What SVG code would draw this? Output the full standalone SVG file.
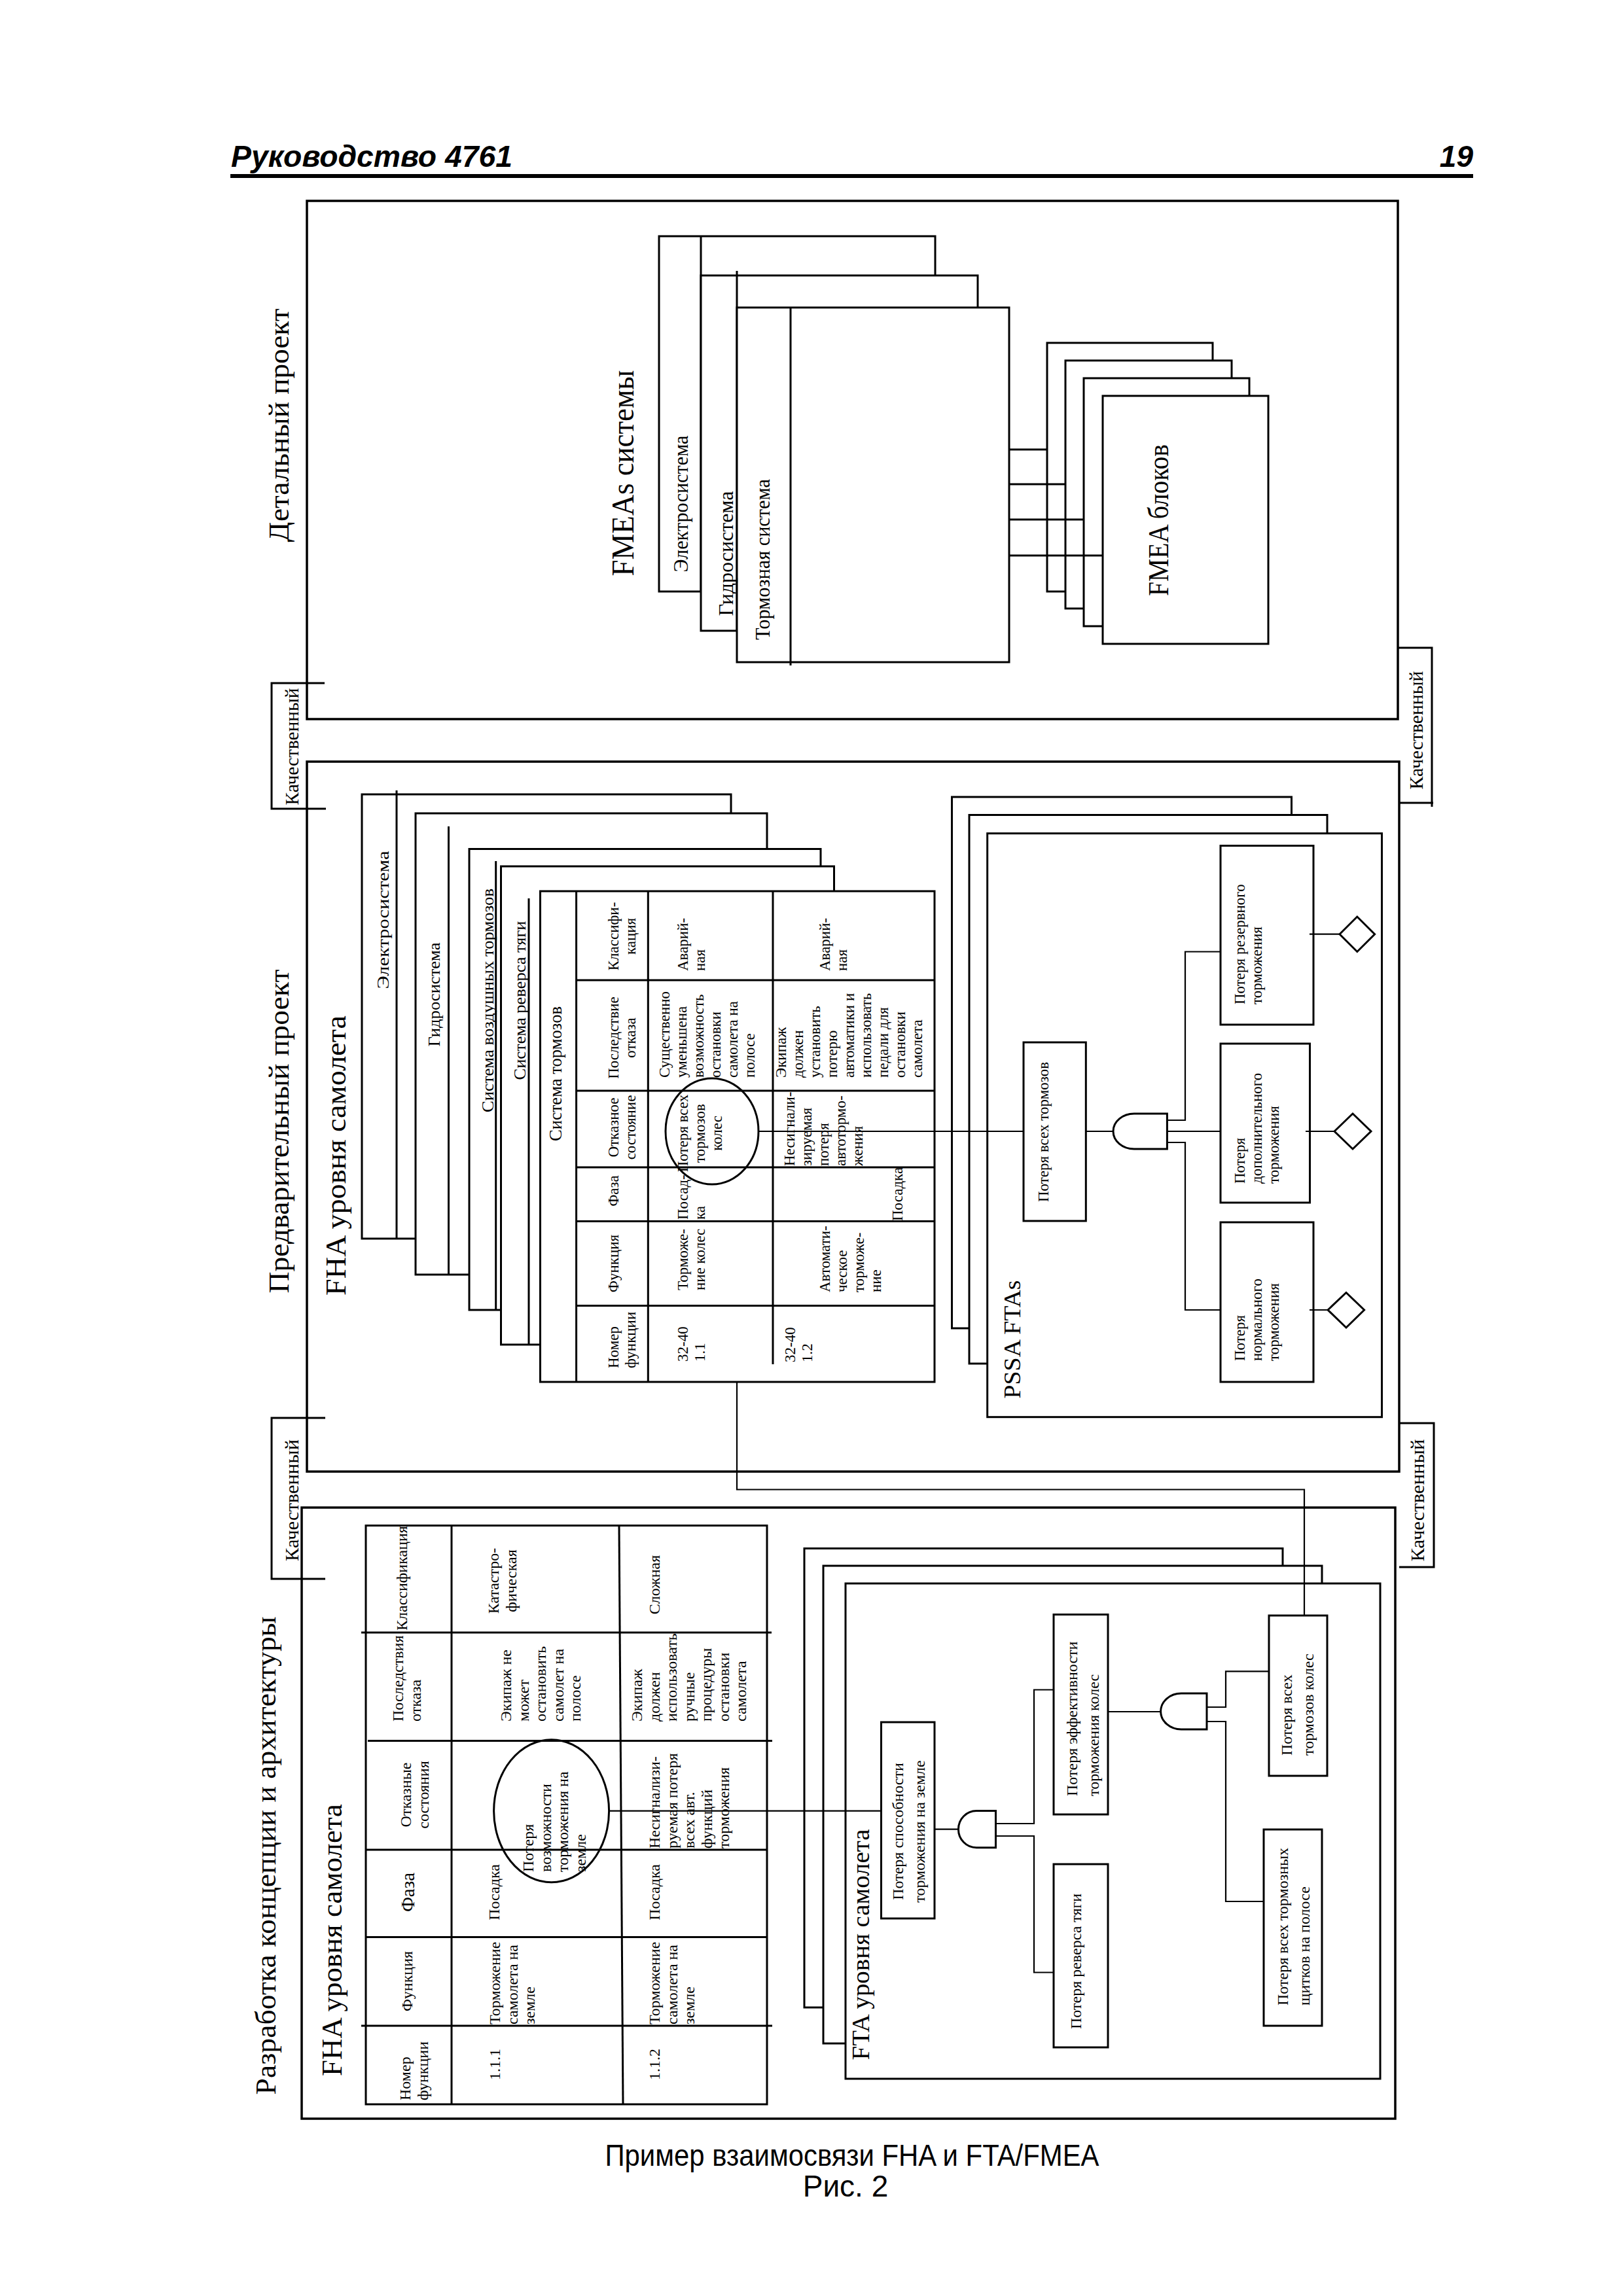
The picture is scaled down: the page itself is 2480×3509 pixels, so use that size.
<svg xmlns="http://www.w3.org/2000/svg" width="2480" height="3509" viewBox="0 0 2480 3509">
<style>
.f{font-family:"Liberation Serif","Times New Roman",serif;fill:#000}
.a{font-family:"Liberation Sans",Arial,sans-serif;fill:#000}
.m{text-anchor:middle}
.k{fill:#fff;stroke:#000;stroke-width:3}
.n{fill:none;stroke:#000;stroke-width:3.5}
.l{fill:none;stroke:#000;stroke-width:3}
.c{fill:none;stroke:#000;stroke-width:2.2}
.g{fill:#fff;stroke:#000;stroke-width:3}
</style>
<rect width="2480" height="3509" fill="#fff"/>

<g id="header">
<text class="a" x="353" y="255" font-size="46" font-weight="bold" font-style="italic" textLength="430" lengthAdjust="spacingAndGlyphs">Руководство 4761</text>
<text class="a" x="2251" y="255" font-size="46" font-weight="bold" font-style="italic" text-anchor="end">19</text>
<rect x="352" y="266" width="1899" height="6" fill="#000"/>
</g>

<!-- ============ DETAILED DESIGN ============ -->
<g id="panel-detail">
<rect class="n" x="469" y="307" width="1667" height="792"/>
<text class="f m" font-size="44" textLength="357" lengthAdjust="spacingAndGlyphs" transform="translate(441 650) rotate(-90)">Детальный проект</text>
</g>
<g id="fmea-systems">
<rect class="k" x="1007" y="361" width="422" height="543"/>
<line class="l" x1="1071" y1="361" x2="1071" y2="904"/>
<rect class="k" x="1071" y="421" width="423" height="543"/>
<line class="l" x1="1126" y1="414" x2="1126" y2="964"/>
<rect class="k" x="1126" y="470" width="416" height="542"/>
<line class="l" x1="1208" y1="470" x2="1208" y2="1017"/>
<text class="f m" font-size="48" textLength="315" lengthAdjust="spacingAndGlyphs" transform="translate(968 723) rotate(-90)">FMEAs системы</text>
<text class="f m" font-size="31" textLength="209" lengthAdjust="spacingAndGlyphs" transform="translate(1051 770) rotate(-90)">Электросистема</text>
<text class="f m" font-size="31" textLength="191" lengthAdjust="spacingAndGlyphs" transform="translate(1120 846) rotate(-90)">Гидросистема</text>
<text class="f m" font-size="31" textLength="246" lengthAdjust="spacingAndGlyphs" transform="translate(1176 855) rotate(-90)">Тормозная система</text>
</g>
<g id="fmea-blocks">
<rect class="k" x="1600" y="524" width="253" height="380"/>
<rect class="k" x="1628" y="551" width="254" height="379"/>
<rect class="k" x="1656" y="578" width="253" height="379"/>
<rect class="k" x="1685" y="605" width="253" height="379"/>
<text class="f m" font-size="44" textLength="232" lengthAdjust="spacingAndGlyphs" transform="translate(1785 795) rotate(-90)">FMEA блоков</text>
</g>

<!-- ============ PRELIMINARY DESIGN ============ -->
<g id="panel-prelim">
<rect class="n" x="469" y="1164" width="1669" height="1085"/>
<text class="f m" font-size="44" textLength="495" lengthAdjust="spacingAndGlyphs" transform="translate(441 1729) rotate(-90)">Предварительный проект</text>
<text class="f m" font-size="44" textLength="428" lengthAdjust="spacingAndGlyphs" transform="translate(528 1766) rotate(-90)">FHA уровня самолета</text>
</g>
<g id="system-fha-stack">
<rect class="k" x="553" y="1214" width="564" height="679"/>
<line class="l" x1="606" y1="1208" x2="606" y2="1893"/>
<text class="f m" font-size="26" textLength="211" lengthAdjust="spacingAndGlyphs" transform="translate(594 1406) rotate(-90)">Электросистема</text>
<rect class="k" x="635" y="1243" width="537" height="705"/>
<line class="l" x1="685.5" y1="1263" x2="685.5" y2="1948"/>
<text class="f m" font-size="26" textLength="159" lengthAdjust="spacingAndGlyphs" transform="translate(672 1520) rotate(-90)">Гидросистема</text>
<rect class="k" x="717" y="1297.5" width="537" height="704.5"/>
<line class="l" x1="757.7" y1="1316" x2="757.7" y2="2002"/>
<text class="f m" font-size="26" textLength="342" lengthAdjust="spacingAndGlyphs" transform="translate(754 1529) rotate(-90)">Система воздушных тормозов</text>
<rect class="k" x="765.5" y="1324" width="509" height="731"/>
<line class="l" x1="808" y1="1373" x2="808" y2="2055"/>
<text class="f m" font-size="26" textLength="243" lengthAdjust="spacingAndGlyphs" transform="translate(803 1529) rotate(-90)">Система реверса тяги</text>
</g>
<g id="brake-system-fha">
<rect class="g" x="825.5" y="1362" width="602.5" height="750" stroke-width="3.5"/>
<g class="l">
<line x1="880.6" y1="1362" x2="880.6" y2="2112"/>
<line x1="990.3" y1="1362" x2="990.3" y2="2112"/>
<line x1="1181" y1="1362" x2="1181" y2="2085"/>
<line x1="880.6" y1="1498" x2="1428" y2="1498"/>
<line x1="880.6" y1="1667" x2="1428" y2="1667"/>
<line x1="880.6" y1="1784" x2="1428" y2="1784"/>
<line x1="880.6" y1="1866.5" x2="1428" y2="1866.5"/>
<line x1="880.6" y1="1995.5" x2="1428" y2="1995.5"/>
</g>
<text class="f m" font-size="27" textLength="206" lengthAdjust="spacingAndGlyphs" transform="translate(858 1641) rotate(-90)">Система тормозов</text>
<g class="f" font-size="23">
<text transform="translate(945 2091) rotate(-90)"><tspan x="0" y="0">Номер</tspan><tspan x="0" y="26">функции</tspan></text>
<text class="m" transform="translate(945 1931) rotate(-90)">Функция</text>
<text class="m" transform="translate(945 1820) rotate(-90)">Фаза</text>
<text class="m" transform="translate(945 1723) rotate(-90)"><tspan x="0" y="0">Отказное</tspan><tspan x="0" y="26">состояние</tspan></text>
<text class="m" transform="translate(945 1586) rotate(-90)"><tspan x="0" y="0">Последствие</tspan><tspan x="0" y="26">отказа</tspan></text>
<text class="m" transform="translate(945 1431) rotate(-90)"><tspan x="0" y="0">Классифи-</tspan><tspan x="0" y="26">кация</tspan></text>
<text transform="translate(1051 2081) rotate(-90)"><tspan x="0" y="0">32-40</tspan><tspan x="0" y="26">1.1</tspan></text>
<text transform="translate(1051 1972) rotate(-90)"><tspan x="0" y="0">Торможе-</tspan><tspan x="0" y="26">ние колес</tspan></text>
<text transform="translate(1051 1864) rotate(-90)"><tspan x="0" y="0">Посад-</tspan><tspan x="0" y="26">ка</tspan></text>
<text class="m" transform="translate(1051 1732) rotate(-90)"><tspan x="0" y="0">Потеря всех</tspan><tspan x="0" y="26">тормозов</tspan><tspan x="0" y="52">колес</tspan></text>
<text transform="translate(1023 1647) rotate(-90)"><tspan x="0" y="0">Существенно</tspan><tspan x="0" y="26">уменьшена</tspan><tspan x="0" y="52">возможность</tspan><tspan x="0" y="78">остановки</tspan><tspan x="0" y="104">самолета на</tspan><tspan x="0" y="130">полосе</tspan></text>
<text transform="translate(1051 1484) rotate(-90)"><tspan x="0" y="0">Аварий-</tspan><tspan x="0" y="26">ная</tspan></text>
<text transform="translate(1215 2082) rotate(-90)"><tspan x="0" y="0">32-40</tspan><tspan x="0" y="26">1.2</tspan></text>
<text transform="translate(1268 1975) rotate(-90)"><tspan x="0" y="0">Автомати-</tspan><tspan x="0" y="26">ческое</tspan><tspan x="0" y="52">торможе-</tspan><tspan x="0" y="78">ние</tspan></text>
<text transform="translate(1379 1866) rotate(-90)">Посадка</text>
<text transform="translate(1214 1782) rotate(-90)"><tspan x="0" y="0">Несигнали-</tspan><tspan x="0" y="26">зируемая</tspan><tspan x="0" y="52">потеря</tspan><tspan x="0" y="78">автотормо-</tspan><tspan x="0" y="104">жения</tspan></text>
<text transform="translate(1201 1647) rotate(-90)"><tspan x="0" y="0">Экипаж</tspan><tspan x="0" y="26">должен</tspan><tspan x="0" y="52">установить</tspan><tspan x="0" y="78">потерю</tspan><tspan x="0" y="104">автоматики и</tspan><tspan x="0" y="130">использовать</tspan><tspan x="0" y="156">педали для</tspan><tspan x="0" y="182">остановки</tspan><tspan x="0" y="208">самолета</tspan></text>
<text transform="translate(1268 1484) rotate(-90)"><tspan x="0" y="0">Аварий-</tspan><tspan x="0" y="26">ная</tspan></text>
</g>
<ellipse class="l" cx="1088" cy="1729" rx="71" ry="81"/>
</g>

<g id="pssa-fta">
<rect class="k" x="1454.5" y="1218" width="519" height="812"/>
<rect class="k" x="1481" y="1245.5" width="547" height="838.5"/>
<rect class="k" x="1508.7" y="1273.7" width="602.8" height="892"/>
<text class="f m" font-size="36" textLength="181" lengthAdjust="spacingAndGlyphs" transform="translate(1559 2047) rotate(-90)">PSSA FTAs</text>
</g>
<g id="pssa-top" class="f" font-size="23">
<rect class="g" x="1564" y="1593" width="95.3" height="273"/>
<text class="m" transform="translate(1602 1730) rotate(-90)">Потеря всех тормозов</text>
</g>
<g id="pssa-reserve" class="f" font-size="23">
<rect class="g" x="1865" y="1292.5" width="142" height="273.5"/>
<text transform="translate(1902 1535) rotate(-90)"><tspan x="0" y="0">Потеря резервного</tspan><tspan x="0" y="26">торможения</tspan></text>
</g>
<g id="pssa-additional" class="f" font-size="23">
<rect class="g" x="1865" y="1595" width="136.5" height="243"/>
<text transform="translate(1902 1809) rotate(-90)"><tspan x="0" y="0">Потеря</tspan><tspan x="0" y="26">дополнительного</tspan><tspan x="0" y="52">торможения</tspan></text>
</g>
<g id="pssa-normal" class="f" font-size="23">
<rect class="g" x="1865" y="1868" width="142" height="244"/>
<text transform="translate(1902 2080) rotate(-90)"><tspan x="0" y="0">Потеря</tspan><tspan x="0" y="26">нормального</tspan><tspan x="0" y="52">торможения</tspan></text>
</g>
<g id="pssa-gate">
<path class="g" d="M1783.4,1702 H1733 A32,27 0 0 0 1733,1756 H1783.4 Z"/>
</g>
<g id="pssa-diamonds">
<polygon class="g" points="2047,1427.7 2073.8,1401 2100.6,1427.7 2073.8,1454.5"/>
<polygon class="g" points="2039,1729 2067,1702 2095,1729 2067,1756"/>
<polygon class="g" points="2029,2002 2057,1975.5 2084.6,2002 2057,2029"/>
</g>

<!-- ============ CONCEPT / ARCHITECTURE ============ -->
<g id="panel-concept">
<rect class="n" x="461" y="2304" width="1671" height="934"/>
<text class="f m" font-size="44" textLength="731" lengthAdjust="spacingAndGlyphs" transform="translate(421 2836) rotate(-90)">Разработка концепции и архитектуры</text>
<text class="f m" font-size="44" textLength="416" lengthAdjust="spacingAndGlyphs" transform="translate(522 2965) rotate(-90)">FHA уровня самолета</text>
</g>
<g id="aircraft-fha">
<rect class="g" x="559" y="2331.5" width="613" height="884.5" stroke-width="3.5"/>
<g class="l">
<line x1="690" y1="2331.5" x2="690" y2="3216"/>
<line x1="946" y1="2331.5" x2="952" y2="3216"/>
<line x1="552" y1="2495" x2="1179" y2="2495"/>
<line x1="562" y1="2660.5" x2="1180" y2="2660.5"/>
<line x1="559" y1="2827" x2="1172" y2="2827"/>
<line x1="559" y1="2960.5" x2="1172" y2="2960.5"/>
<line x1="552" y1="3096" x2="1180" y2="3096"/>
</g>
<g class="f" font-size="24">
<text transform="translate(627 3210) rotate(-90)"><tspan x="0" y="0">Номер</tspan><tspan x="0" y="26.5">функции</tspan></text>
<text class="m" transform="translate(630 3028) rotate(-90)">Функция</text>
<text class="m" font-size="29" transform="translate(633 2892) rotate(-90)">Фаза</text>
<text class="m" transform="translate(628 2743) rotate(-90)"><tspan x="0" y="0">Отказные</tspan><tspan x="0" y="26.5">состояния</tspan></text>
<text transform="translate(616 2631) rotate(-90)"><tspan x="0" y="0">Последствия</tspan><tspan x="0" y="26.5">отказа</tspan></text>
<text transform="translate(622 2492) rotate(-90)">Классификация</text>
<text class="m" transform="translate(764 3155) rotate(-90)">1.1.1</text>
<text transform="translate(764 3094) rotate(-90)"><tspan x="0" y="0">Торможение</tspan><tspan x="0" y="26.5">самолета на</tspan><tspan x="0" y="53">земле</tspan></text>
<text class="m" transform="translate(763 2892) rotate(-90)">Посадка</text>
<text transform="translate(815 2861) rotate(-90)"><tspan x="0" y="0">Потеря</tspan><tspan x="0" y="26.5">возможности</tspan><tspan x="0" y="53">торможения на</tspan><tspan x="0" y="79.5">земле</tspan></text>
<text transform="translate(781 2631) rotate(-90)"><tspan x="0" y="0">Экипаж не</tspan><tspan x="0" y="26.5">может</tspan><tspan x="0" y="53">остановить</tspan><tspan x="0" y="79.5">самолет на</tspan><tspan x="0" y="106">полосе</tspan></text>
<text class="m" transform="translate(762 2416) rotate(-90)"><tspan x="0" y="0">Катастро-</tspan><tspan x="0" y="26.5">фическая</tspan></text>
<text class="m" transform="translate(1008 3155) rotate(-90)">1.1.2</text>
<text transform="translate(1008 3094) rotate(-90)"><tspan x="0" y="0">Торможение</tspan><tspan x="0" y="26.5">самолета на</tspan><tspan x="0" y="53">земле</tspan></text>
<text class="m" transform="translate(1008 2892) rotate(-90)">Посадка</text>
<text transform="translate(1008 2825) rotate(-90)"><tspan x="0" y="0">Несигнализи-</tspan><tspan x="0" y="26.5">руемая потеря</tspan><tspan x="0" y="53">всех авт.</tspan><tspan x="0" y="79.5">функций</tspan><tspan x="0" y="106">торможения</tspan></text>
<text transform="translate(981 2631) rotate(-90)"><tspan x="0" y="0">Экипаж</tspan><tspan x="0" y="26.5">должен</tspan><tspan x="0" y="53">использовать</tspan><tspan x="0" y="79.5">ручные</tspan><tspan x="0" y="106">процедуры</tspan><tspan x="0" y="132.5">остановки</tspan><tspan x="0" y="159">самолета</tspan></text>
<text class="m" transform="translate(1008 2422) rotate(-90)">Сложная</text>
</g>
<ellipse class="l" cx="842.6" cy="2767.7" rx="88" ry="109"/>
</g>

<g id="aircraft-fta">
<rect class="k" x="1229" y="2366.5" width="731" height="701.5"/>
<rect class="k" x="1258" y="2393" width="762" height="730"/>
<rect class="k" x="1292" y="2420" width="817" height="757"/>
<text class="f m" font-size="38" textLength="353" lengthAdjust="spacingAndGlyphs" transform="translate(1328 2972) rotate(-90)">FTA уровня самолета</text>
</g>
<g id="fta-top" class="f" font-size="24">
<rect class="g" x="1346.5" y="2632" width="81.5" height="300"/>
<text class="m" transform="translate(1380 2799) rotate(-90)"><tspan x="0" y="0">Потеря способности</tspan><tspan x="0" y="33">торможения на земле</tspan></text>
</g>
<g id="fta-efficiency" class="f" font-size="24">
<rect class="g" x="1610" y="2467.5" width="83" height="305.5"/>
<text transform="translate(1646 2745) rotate(-90)"><tspan x="0" y="0">Потеря эффективности</tspan><tspan x="0" y="33">торможения  колес</tspan></text>
</g>
<g id="fta-reverse" class="f" font-size="24">
<rect class="g" x="1610" y="2849" width="83" height="280"/>
<text transform="translate(1652 3101) rotate(-90)">Потеря реверса тяги</text>
</g>
<g id="fta-wheelbrakes" class="f" font-size="24">
<rect class="g" x="1939" y="2469" width="89" height="245"/>
<text transform="translate(1974 2683) rotate(-90)"><tspan x="0" y="0">Потеря всех</tspan><tspan x="0" y="33">тормозов колес</tspan></text>
</g>
<g id="fta-spoilers" class="f" font-size="24">
<rect class="g" x="1931" y="2796" width="89" height="300"/>
<text transform="translate(1968 3065) rotate(-90)"><tspan x="0" y="0">Потеря всех тормозных</tspan><tspan x="0" y="33">щитков на полосе</tspan></text>
</g>
<g id="fta-gates">
<path class="g" d="M1521.5,2767.6 H1492 A27.5,28 0 0 0 1492,2823.7 H1521.5 Z"/>
<path class="g" d="M1844,2588 H1805 A31.4,27.5 0 0 0 1805,2643 H1844 Z"/>
</g>

<!-- ============ QUALITATIVE LABELS ============ -->
<g id="labels" class="f" font-size="29">
<path class="l" d="M496,1044 H415 V1236 H498"/>
<text class="m" textLength="179" lengthAdjust="spacingAndGlyphs" transform="translate(456 1141) rotate(-90)">Качественный</text>
<path class="l" d="M2137,990 H2188 V1233 M2137,1227 H2190"/>
<text class="m" textLength="181" lengthAdjust="spacingAndGlyphs" transform="translate(2174 1116) rotate(-90)">Качественный</text>
<path class="l" d="M497,2167 H415 V2413 H497"/>
<text class="m" textLength="186" lengthAdjust="spacingAndGlyphs" transform="translate(456 2293) rotate(-90)">Качественный</text>
<path class="l" d="M2138,2175 H2191 V2395 H2138"/>
<text class="m" textLength="187" lengthAdjust="spacingAndGlyphs" transform="translate(2176 2293) rotate(-90)">Качественный</text>
</g>

<!-- ============ CONNECTORS ============ -->
<g id="connectors" class="c">
<path d="M1542.5,687 H1600 M1542.5,740 H1628 M1542.5,794 H1656 M1542.5,849 H1685" stroke-width="3"/>
<path d="M1159.5,1729 H1564"/>
<path d="M1659.3,1729 H1701"/>
<path d="M1783.4,1712 H1811 V1454.5 H1865 M1783.4,1729 H1865 M1783.4,1746 H1811 V2002 H1865"/>
<path d="M2001,1427.7 H2047 M1995,1729 H2039 M2001,2002 H2029"/>
<path d="M1126,2112 V2276.5 H1993 V2469"/>
<path d="M930.6,2767.6 H1346.5"/>
<path d="M1428,2795.6 H1464.6"/>
<path d="M1521.5,2787 H1580 V2582.5 H1610 M1521.5,2806 H1580 V3014.5 H1610"/>
<path d="M1693,2616 H1773.6"/>
<path d="M1844,2609 H1873 V2554.4 H1939 M1844,2631 H1873 V2906 H1931"/>
</g>

<g id="caption">
<text class="a m" x="1302" y="3310" font-size="46" textLength="755" lengthAdjust="spacingAndGlyphs">Пример взаимосвязи FHA и FTA/FMEA</text>
<text class="a m" x="1292" y="3357" font-size="46">Рис. 2</text>
</g>
</svg>
